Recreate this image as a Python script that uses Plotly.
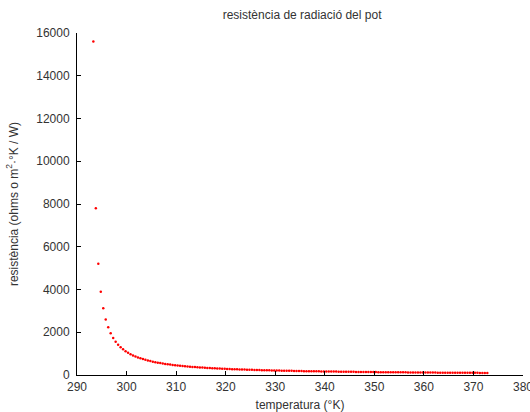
import plotly.graph_objects as go

temperatura = [
    293.3, 293.8, 294.3, 294.8, 295.3, 295.8, 296.3, 296.8, 297.3, 297.8,
    298.3, 298.8, 299.3, 299.8, 300.3, 300.8, 301.3, 301.8, 302.3, 302.8,
    303.3, 303.8, 304.3, 304.8, 305.3, 305.8, 306.3, 306.8, 307.3, 307.8,
    308.3, 308.8, 309.3, 309.8, 310.3, 310.8, 311.3, 311.8, 312.3, 312.8,
    313.3, 313.8, 314.3, 314.8, 315.3, 315.8, 316.3, 316.8, 317.3, 317.8,
    318.3, 318.8, 319.3, 319.8, 320.3, 320.8, 321.3, 321.8, 322.3, 322.8,
    323.3, 323.8, 324.3, 324.8, 325.3, 325.8, 326.3, 326.8, 327.3, 327.8,
    328.3, 328.8, 329.3, 329.8, 330.3, 330.8, 331.3, 331.8, 332.3, 332.8,
    333.3, 333.8, 334.3, 334.8, 335.3, 335.8, 336.3, 336.8, 337.3, 337.8,
    338.3, 338.8, 339.3, 339.8, 340.3, 340.8, 341.3, 341.8, 342.3, 342.8,
    343.3, 343.8, 344.3, 344.8, 345.3, 345.8, 346.3, 346.8, 347.3, 347.8,
    348.3, 348.8, 349.3, 349.8, 350.3, 350.8, 351.3, 351.8, 352.3, 352.8,
    353.3, 353.8, 354.3, 354.8, 355.3, 355.8, 356.3, 356.8, 357.3, 357.8,
    358.3, 358.8, 359.3, 359.8, 360.3, 360.8, 361.3, 361.8, 362.3, 362.8,
    363.3, 363.8, 364.3, 364.8, 365.3, 365.8, 366.3, 366.8, 367.3, 367.8,
    368.3, 368.8, 369.3, 369.8, 370.3, 370.8, 371.3, 371.8, 372.3, 372.8,
]

resistencia = [
    15600, 7800, 5200, 3900, 3120, 2600, 2229, 1950, 1733, 1560,
    1418, 1300, 1200, 1114, 1040, 975, 918, 867, 821, 780,
    743, 709, 678, 650, 624, 600, 578, 557, 538, 520,
    503, 488, 473, 459, 446, 433, 422, 411, 400, 390,
    380, 371, 363, 355, 347, 339, 332, 325, 318, 312,
    306, 300, 294, 289, 284, 279, 274, 269, 264, 260,
    256, 252, 248, 244, 240, 236, 233, 229, 226, 223,
    220, 217, 214, 211, 208, 205, 203, 200, 197, 195,
    193, 190, 188, 186, 184, 181, 179, 177, 175, 173,
    171, 170, 168, 166, 164, 163, 161, 159, 158, 156,
    154, 153, 151, 150, 149, 147, 146, 144, 143, 142,
    141, 139, 138, 137, 136, 134, 133, 132, 131, 130,
    129, 128, 127, 126, 125, 124, 123, 122, 121, 120,
    119, 118, 117, 116, 116, 115, 114, 113, 112, 111,
    111, 110, 109, 108, 108, 107, 106, 105, 105, 104,
    103, 103, 102, 101, 101, 100, 99, 99, 98, 98,
]

x_ticks = [290, 300, 310, 320, 330, 340, 350, 360, 370, 380]
y_ticks = [0, 2000, 4000, 6000, 8000, 10000, 12000, 14000, 16000]

titol = "resistència de radiació del pot"
titol_x = "temperatura (°K)"
titol_y = "resistència (ohms o m<sup>2</sup>·°K / W)"

fam = "Liberation Sans Narrow, Liberation Sans, Arial, sans-serif"
fnt = dict(family=fam, size=12, color="#333")

fig = go.Figure(go.Scatter(
    x=temperatura, y=resistencia, mode="markers",
    marker=dict(color="red", size=2.5, line=dict(width=0)),
))

fig.update_layout(
    width=530, height=412,
    margin=dict(l=77, r=7, t=33, b=37, autoexpand=False),
    paper_bgcolor="white", plot_bgcolor="white",
    showlegend=False,
    font=fnt,
    title=dict(text=titol, x=0.57, xanchor="center", y=0.965, yanchor="middle",
               font=dict(family=fam, size=12, color="#333")),
)
fig.update_xaxes(
    range=[290, 380], tickvals=x_ticks, ticktext=[str(v) for v in x_ticks],
    showgrid=False, zeroline=False, showline=True, linecolor="black", linewidth=1,
    ticks="inside", ticklen=4, tickcolor="black", mirror=False, automargin=False,
    ticklabeloverflow="allow", ticklabelstandoff=1,
    title=dict(text=titol_x, font=fnt), tickfont=fnt,
)
fig.update_yaxes(
    range=[0, 16000], tickvals=y_ticks, ticktext=[str(v) for v in y_ticks],
    showgrid=False, zeroline=False, showline=True, linecolor="black", linewidth=1,
    ticks="inside", ticklen=4, tickcolor="black", mirror=False, automargin=False,
    ticklabeloverflow="allow", ticklabelstandoff=4,
    title=dict(text=titol_y, font=fnt), tickfont=fnt,
)

fig.write_html("out.html")
